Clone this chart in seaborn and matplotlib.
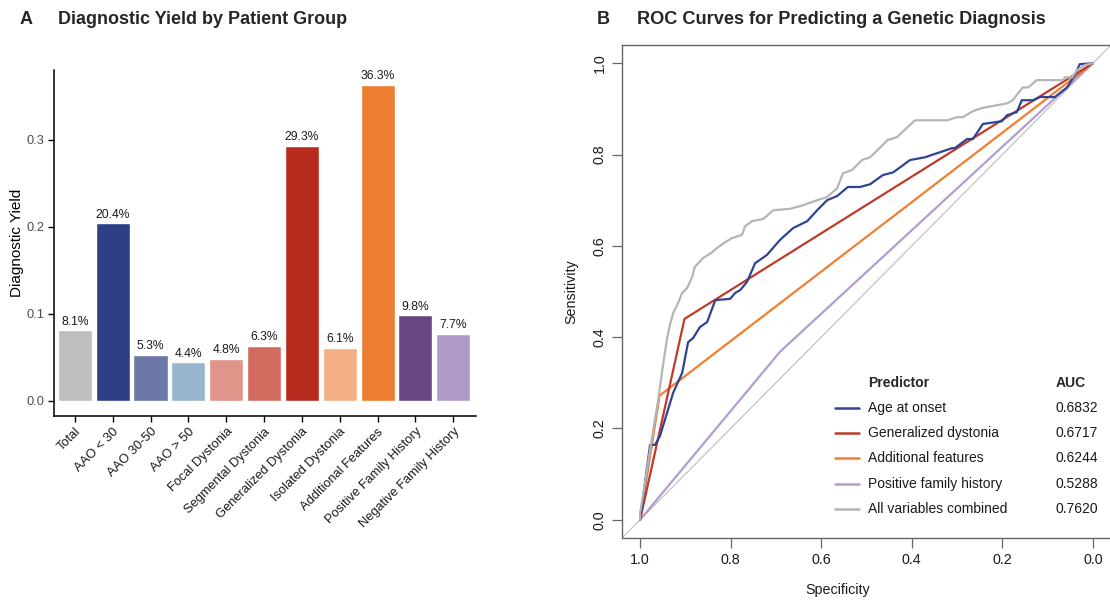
import numpy as np
import pandas as pd
import matplotlib
matplotlib.use("Agg")
import matplotlib.pyplot as plt
import seaborn as sns

sns.set_theme(style="white")
plt.rcParams['font.family'] = ['Liberation Sans', 'DejaVu Sans']

# ---------------- Data: panel A ----------------
groups = ["Total", "AAO < 30", "AAO 30-50", "AAO > 50", "Focal Dystonia",
          "Segmental Dystonia", "Generalized Dystonia", "Isolated Dystonia",
          "Additional Features", "Positive Family History", "Negative Family History"]
yields = [0.081, 0.204, 0.053, 0.044, 0.048, 0.063, 0.293, 0.061, 0.363, 0.098, 0.077]
bar_colors = ["#BEBEBE", "#2E3F86", "#6B78A8", "#97B5CC", "#E0948A", "#D36A5E",
              "#B82C1F", "#F4B084", "#ED7D31", "#6A4583", "#B19AC8"]
ytick_vals = [0.0, 0.1, 0.2, 0.3]

# ---------------- Data: panel B (specificity, sensitivity) ----------------
age_spec = [1.0, 0.978, 0.967, 0.956, 0.927, 0.907, 0.894, 0.883, 0.868, 0.852, 0.834,
            0.801, 0.790, 0.779, 0.764, 0.746, 0.720, 0.691, 0.662, 0.631, 0.609, 0.587,
            0.565, 0.541, 0.514, 0.492, 0.464, 0.441, 0.404, 0.371, 0.344, 0.311, 0.305,
            0.278, 0.265, 0.243, 0.201, 0.190, 0.168, 0.157, 0.132, 0.117, 0.084, 0.057,
            0.040, 0.029, 0.0]
age_sens = [0.0, 0.164, 0.164, 0.184, 0.278, 0.322, 0.389, 0.398, 0.422, 0.433, 0.481,
            0.484, 0.497, 0.503, 0.521, 0.562, 0.580, 0.613, 0.639, 0.654, 0.678, 0.700,
            0.709, 0.729, 0.729, 0.735, 0.755, 0.761, 0.788, 0.794, 0.803, 0.814, 0.814,
            0.834, 0.834, 0.867, 0.873, 0.886, 0.893, 0.919, 0.919, 0.926, 0.926, 0.947,
            0.974, 0.998, 1.0]
gen_spec = [1.0, 0.902, 0.0]
gen_sens = [0.0, 0.440, 1.0]
add_spec = [1.0, 0.957, 0.0]
add_sens = [0.0, 0.272, 1.0]
fam_spec = [1.0, 0.691, 0.0]
fam_sens = [0.0, 0.368, 1.0]
all_spec = [1.0, 1.0, 0.989, 0.978, 0.971, 0.960, 0.951, 0.940, 0.934, 0.927, 0.916,
            0.907, 0.896, 0.885, 0.879, 0.861, 0.841, 0.828, 0.812, 0.797, 0.775, 0.768,
            0.753, 0.728, 0.706, 0.669, 0.640, 0.609, 0.587, 0.565, 0.552, 0.532, 0.510,
            0.492, 0.453, 0.433, 0.393, 0.322, 0.300, 0.287, 0.265, 0.245, 0.190, 0.177,
            0.155, 0.143, 0.124, 0.066, 0.062, 0.046, 0.035, 0.018, 0.0]
all_sens = [0.0, 0.015, 0.081, 0.153, 0.197, 0.263, 0.328, 0.400, 0.427, 0.453, 0.475,
            0.497, 0.508, 0.532, 0.554, 0.573, 0.586, 0.597, 0.608, 0.617, 0.624, 0.643,
            0.654, 0.659, 0.678, 0.681, 0.689, 0.700, 0.707, 0.726, 0.759, 0.766, 0.788,
            0.794, 0.832, 0.838, 0.875, 0.875, 0.882, 0.882, 0.895, 0.902, 0.912, 0.919,
            0.947, 0.947, 0.963, 0.963, 0.969, 0.969, 0.985, 0.996, 1.0]

predictors = ["Age at onset", "Generalized dystonia", "Additional features",
              "Positive family history", "All variables combined"]
auc_values = ["0.6832", "0.6717", "0.6244", "0.5288", "0.7620"]
line_colors = ["#2D4594", "#C0392B", "#F07F30", "#B39DD0", "#B5B5B5"]
xtick_vals = [1.0, 0.8, 0.6, 0.4, 0.2, 0.0]
ytick_vals_b = [0.0, 0.2, 0.4, 0.6, 0.8, 1.0]

# ---------------- Figure ----------------
fig = plt.figure(figsize=(11.10, 6.02), dpi=100)
W, H = 1110, 602

def ax_rect(l, t, r, b):
    return [l / W, 1 - b / H, (r - l) / W, (b - t) / H]

# Panel A
axA = fig.add_axes(ax_rect(54, 70, 476, 416))
dfA = pd.DataFrame({"group": groups, "yield": yields})
sns.barplot(data=dfA, x="group", y="yield", hue="group", palette=dict(zip(groups, bar_colors)),
            order=groups, hue_order=groups, width=0.9, edgecolor="white", linewidth=1.0,
            legend=False, ax=axA, saturation=1)
for i, v in enumerate(yields):
    axA.text(i, v + 0.003, f"{v*100:.1f}%", ha="center", va="bottom", fontsize=8.7,
             color="#1A1A1A")
axA.set_xlim(-0.55, 10.6)
axA.set_ylim(-0.0176, 0.380)
axA.set_yticks(ytick_vals)
axA.set_yticklabels([f"{v:.1f}" for v in ytick_vals], color="#4D4D4D", fontsize=9.3)
axA.set_xticks(range(len(groups)))
axA.set_xticklabels(groups, rotation=45, ha="right", rotation_mode="anchor",
                    fontsize=9.3, color="#1A1A1A")
axA.set_xlabel("")
axA.set_ylabel("Diagnostic Yield", fontsize=11, color="black")
axA.yaxis.set_label_coords(-0.071, 0.5)
for s in ["top", "right"]:
    axA.spines[s].set_visible(False)
for s in ["left", "bottom"]:
    axA.spines[s].set_color("black")
    axA.spines[s].set_linewidth(1.1)
axA.tick_params(axis="both", which="both", direction="out", length=4, width=1.0,
                color="black", left=True, bottom=True, pad=3)

# Panel B
axB = fig.add_axes(ax_rect(622, 45, 1111, 538))
series = [(age_spec, age_sens), (gen_spec, gen_sens), (add_spec, add_sens),
          (fam_spec, fam_sens), (all_spec, all_sens)]
rows = []
for name, (sp, se) in zip(predictors, series):
    for k, (a, b) in enumerate(zip(sp, se)):
        rows.append({"predictor": name, "order": k, "spec": a, "sens": b})
dfB = pd.DataFrame(rows)
axB.axline((1.0, 0.0), (0.0, 1.0), color="#BDBDBD", lw=0.8, zorder=1)
plot_order = ["Positive family history", "Additional features", "Generalized dystonia",
              "Age at onset", "All variables combined"]
for name in plot_order:
    sub = dfB[dfB["predictor"] == name]
    sns.lineplot(data=sub, x="spec", y="sens", sort=False, estimator=None,
                 color=line_colors[predictors.index(name)], lw=1.6, ax=axB, zorder=3)
axB.set_xlim(1.04, -0.04)
axB.set_ylim(-0.04, 1.04)
axB.set_xticks(xtick_vals)
axB.set_xticklabels([f"{v:.1f}" for v in xtick_vals], fontsize=10.3, color="#1A1A1A")
axB.set_yticks(ytick_vals_b)
axB.set_yticklabels([f"{v:.1f}" for v in ytick_vals_b], fontsize=10.3, color="#1A1A1A",
                    rotation=90, va="center")
axB.set_xlabel("Specificity", fontsize=10.3, color="#1A1A1A")
axB.set_ylabel("Sensitivity", fontsize=10.3, color="#1A1A1A")
axB.xaxis.set_label_coords(0.44, -0.091)
axB.yaxis.set_label_coords(-0.09, 0.5)
for s in axB.spines.values():
    s.set_color("#666666")
    s.set_linewidth(1.0)
axB.tick_params(axis="both", direction="out", length=7, width=0.9, color="#666666",
                left=True, bottom=True, pad=4)

# custom legend table (pixel-placed)
def fx(px):
    return px / W
def fy(py):
    return 1 - py / H
fig.text(fx(868), fy(383), "Predictor", fontsize=10, fontweight="bold", va="center", ha="left")
fig.text(fx(1056), fy(383), "AUC", fontsize=10, fontweight="bold", va="center", ha="left")
row_y = [408, 433, 458, 484, 509]
for name, auc, col, yy in zip(predictors, auc_values, line_colors, row_y):
    fig.add_artist(plt.Line2D([fx(835), fx(859)], [fy(yy), fy(yy)], color=col, lw=1.8,
                              transform=fig.transFigure))
    fig.text(fx(868), fy(yy), name, fontsize=10, va="center", ha="left", color="#1A1A1A")
    fig.text(fx(1056), fy(yy), auc, fontsize=10, va="center", ha="left", color="#1A1A1A")

# Titles
fig.text(fx(20), fy(20), "A", fontsize=13, fontweight="bold", va="center", ha="left")
fig.text(fx(58), fy(20), "Diagnostic Yield by Patient Group", fontsize=13,
         fontweight="bold", va="center", ha="left")
fig.text(fx(597), fy(20), "B", fontsize=13, fontweight="bold", va="center", ha="left")
fig.text(fx(637), fy(20), "ROC Curves for Predicting a Genetic Diagnosis", fontsize=13.1,
         fontweight="bold", va="center", ha="left")

fig.savefig("out.png", dpi=100, facecolor="white")
